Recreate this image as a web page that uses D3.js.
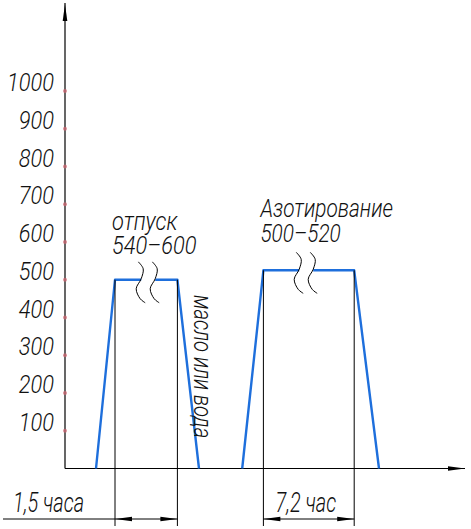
<!DOCTYPE html>
<html><head><meta charset="utf-8">
<script src="https://cdn.jsdelivr.net/npm/d3@7"></script>
<style>
html,body{margin:0;padding:0;background:#fff;}
text{font-family:Roboto,"DejaVu Sans",sans-serif;font-style:italic;font-weight:300;fill:#111;}
</style></head>
<body><svg id="c" width="471" height="529"></svg>
<script>
// ---- data ----
const yTickValues = [100,200,300,400,500,600,700,800,900,1000];
const stageNames = ["отпуск", "Азотирование"];
const stageRanges = ["540–600", "500–520"];
const stageTemps = [500, 525];            // plotted plateau level
const heatStart = [7.75, 44.3];           // schematic time units
const plateauStart = [12.5, 49.6];
const plateauEnd = [28.1, 72.3];
const coolEnd = [33.5, 78.5];
const breakAt = [20.8, 60.3];
const durations = ["1,5 часа", "7,2 час"];
const coolingNote = "масло или вода";

const svg = d3.select("#c");
const x = d3.scaleLinear().domain([0, 100]).range([65, 465]);
const y = d3.scaleLinear().domain([0, 1000]).range([468.5, 91]);
const blue = "#1e6fdc";
const FS = 26, SX = 0.84;

function label(tx, ty, str, opts = {}) {
  const g = svg.append("g").attr("transform", `translate(${tx},${ty}) ${opts.rot ? "rotate(" + opts.rot + ")" : ""} scale(${opts.sx || SX},1)`);
  const t = g.append("text").attr("x", 0).attr("y", 0).attr("font-size", opts.fs || FS)
    .attr("text-anchor", opts.anchor || "start");
  if (Array.isArray(str)) {
    str.forEach((s, k) => t.append("tspan").attr("x", 0).attr("dy", k === 0 ? 0 : opts.lh).text(s));
  } else t.text(str);
  return g;
}

// axes
const x0 = x(0), y0 = y(0);
svg.append("line").attr("x1", x0).attr("x2", x0).attr("y1", y0).attr("y2", 3).attr("stroke", "#000").attr("stroke-width", 1.2);
svg.append("line").attr("x1", x0).attr("x2", x(100)).attr("y1", y0).attr("y2", y0).attr("stroke", "#000").attr("stroke-width", 1.2);
svg.append("path").attr("d", `M${x0},4 L${x0+2.3},21 L${x0-2.3},21 Z`).attr("fill", "#000");
svg.append("path").attr("d", `M${x(100)},${y0} L${x(100)-17},${y0-2.3} L${x(100)-17},${y0+2.3} Z`).attr("fill", "#000");

// y ticks and labels
svg.append("g").selectAll("circle").data(yTickValues).join("circle")
  .attr("cx", x0).attr("cy", d => y(d)).attr("r", 2).attr("fill", "#cc6670").attr("opacity", 0.75);
yTickValues.forEach(d => label(54, y(d), String(d), {anchor: "end"}));

// trapezoids
stageNames.forEach((name, i) => {
  const yt = y(stageTemps[i]);
  const bx = x(breakAt[i]);
  const gap = 7;
  const line = d3.line();
  svg.append("path").attr("d", line([[x(heatStart[i]), y0],[x(plateauStart[i]), yt],[bx-gap, yt]]))
    .attr("fill", "none").attr("stroke", blue).attr("stroke-width", 2.4).attr("stroke-linejoin", "round");
  svg.append("path").attr("d", line([[bx+gap, yt],[x(plateauEnd[i]), yt],[x(coolEnd[i]), y0]]))
    .attr("fill", "none").attr("stroke", blue).attr("stroke-width", 2.4).attr("stroke-linejoin", "round");
  const wave = d3.line().curve(d3.curveCatmullRom);
  [-gap, gap].forEach(off => {
    const c = bx + off;
    const pts = [[-3,-18],[2,-11],[0,-1],[-5,9],[-1,19],[4,23]].map(p => [c + p[0], yt + p[1]]);
    svg.append("path").attr("d", wave(pts)).attr("fill", "none").attr("stroke", "#000").attr("stroke-width", 1);
  });
  [plateauStart[i], plateauEnd[i]].forEach(t => {
    svg.append("line").attr("x1", x(t)).attr("x2", x(t)).attr("y1", yt).attr("y2", 526).attr("stroke", "#000").attr("stroke-width", 1);
  });
  label(x(plateauStart[i]) - 3, yt - (i === 0 ? 50 : 53), [name, stageRanges[i]], {sx: i === 0 ? 0.84 : 0.8, lh: i === 0 ? 24 : 25});
  const dy = 519;
  const xa = x(plateauStart[i]), xb = x(plateauEnd[i]);
  svg.append("line").attr("x1", i === 0 ? 3 : xa).attr("x2", xb).attr("y1", dy).attr("y2", dy).attr("stroke", "#000").attr("stroke-width", 1);
  svg.append("path").attr("d", `M${xa},${dy} L${xa+17},${dy-2.3} L${xa+17},${dy+2.3} Z`).attr("fill", "#000");
  svg.append("path").attr("d", `M${xb},${dy} L${xb-17},${dy-2.3} L${xb-17},${dy+2.3} Z`).attr("fill", "#000");
  label(i === 0 ? 13 : xa + 12, 512, durations[i], {fs: FS + 1, sx: 0.74});
});

// cooling note (vertical)
label(194, 295, coolingNote, {rot: 90, sx: 0.78});
</script></body></html>
